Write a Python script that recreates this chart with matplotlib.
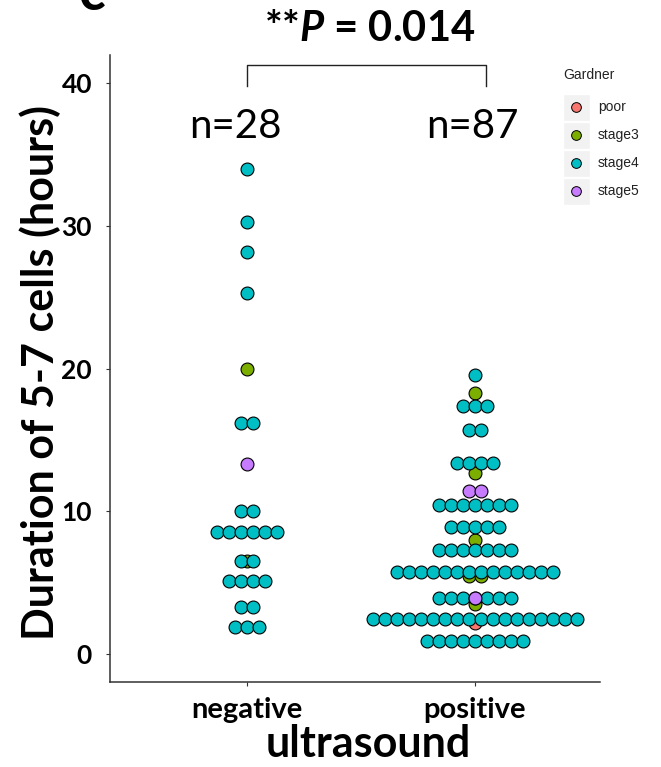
import numpy as np
import matplotlib.pyplot as plt
from matplotlib.patches import Rectangle
from matplotlib.lines import Line2D

plt.rcParams['font.family'] = ['Lato', 'DejaVu Sans']
plt.rcParams['mathtext.fontset'] = 'custom'
plt.rcParams['mathtext.bfit'] = 'Lato:italic:bold'

groups = ['negative', 'positive']
stages = ['poor', 'stage3', 'stage4', 'stage5']
stage_colors = ['#F8766D', '#7CAE00', '#00BFC4', '#C77CFF']

# binned dot rows: value (hours) and number of dots in the bin
neg_stage3_y = [20.0, 6.5]
neg_stage3_n = [1, 1]
neg_stage4_y = [34.0, 30.3, 28.2, 25.3, 16.2, 10.0, 8.5, 6.5, 5.1, 3.25, 1.85]
neg_stage4_n = [1, 1, 1, 1, 2, 2, 6, 2, 4, 2, 3]
neg_stage5_y = [13.3]
neg_stage5_n = [1]

pos_poor_y = [2.15]
pos_poor_n = [1]
pos_stage3_y = [18.27, 12.65, 8.0, 5.45, 3.45]
pos_stage3_n = [1, 1, 1, 2, 1]
pos_stage4_y = [19.56, 17.4, 15.65, 13.4, 10.39, 8.9, 7.23, 5.7, 3.88, 2.43, 0.9]
pos_stage4_n = [1, 3, 2, 4, 7, 5, 7, 14, 7, 18, 9]
pos_stage5_y = [11.37, 3.88]
pos_stage5_n = [2, 1]

n_labels = ['n=28', 'n=87']
p_text = r'**$\mathbfit{P}$ = 0.014'

data = {
    ('negative', 'stage3'): (neg_stage3_y, neg_stage3_n),
    ('negative', 'stage4'): (neg_stage4_y, neg_stage4_n),
    ('negative', 'stage5'): (neg_stage5_y, neg_stage5_n),
    ('positive', 'poor'): (pos_poor_y, pos_poor_n),
    ('positive', 'stage3'): (pos_stage3_y, pos_stage3_n),
    ('positive', 'stage4'): (pos_stage4_y, pos_stage4_n),
    ('positive', 'stage5'): (pos_stage5_y, pos_stage5_n),
}

dot_w = 0.0526

fig = plt.figure(figsize=(6.61, 7.67), dpi=100)
ax = fig.add_axes([0.1664, 0.1108, 0.7413, 0.8175])

for si, stage in enumerate(stages):
    for gi, grp in enumerate(groups):
        if (grp, stage) not in data:
            continue
        ys, ns = data[(grp, stage)]
        xs_all, ys_all = [], []
        for y, n in zip(ys, ns):
            offs = (np.arange(n) - (n - 1) / 2) * dot_w
            xs_all += list(gi + 1 + offs)
            ys_all += [y] * n
        ax.scatter(xs_all, ys_all, s=86, color=stage_colors[si],
                   edgecolor='black', linewidth=0.8, zorder=3 + si)

ax.set_xlim(0.4, 2.55)
ax.set_ylim(-2.0, 42)
ax.set_xticks([1, 2])
ax.set_xticklabels(groups, fontsize=21, fontweight='bold')
ax.set_yticks([0, 10, 20, 30, 40])
ax.set_yticklabels(['0', '10', '20', '30', '40'], fontsize=19, fontweight='bold')
ax.tick_params(length=3, color='#333333', width=0.8, pad=10)
ax.tick_params(axis='x', pad=8)
for side in ['top', 'right']:
    ax.spines[side].set_visible(False)
for side in ['left', 'bottom']:
    ax.spines[side].set_color('#333333')
    ax.spines[side].set_linewidth(1.1)

fig.text(368 / 661, 1 - 757 / 767, 'ultrasound', ha='center', va='baseline',
         fontsize=31, fontweight='bold')
fig.text(40 / 661, 1 - 372 / 767, 'Duration of 5-7 cells (hours)', rotation=90,
         ha='center', va='center', fontsize=31, fontweight='bold')

# significance bracket and annotations
ax.plot([1, 1, 2.05, 2.05], [39.85, 41.3, 41.3, 39.85], color='#222222', lw=1,
        clip_on=False)
fig.text(370 / 661, 1 - 29 / 767, p_text, ha='center', va='center',
         fontsize=30, fontweight='bold')
for gi, lab in enumerate(n_labels):
    ax.text([0.95, 1.99][gi], 37.0, lab, ha='center', va='center', fontsize=29)

# partially visible panel letter
fig.text(0.139, 0.987, 'c', ha='center', va='baseline', fontsize=40, fontweight='bold')

# legend
fig.text(563 / 661, 1 - 75 / 767, 'Gardner', family='Liberation Sans', fontsize=10,
         color='#222222', va='center', ha='left')
for si, stage in enumerate(stages):
    yc = 1 - (107 + si * 28) / 767
    fig.add_artist(Rectangle((563 / 661, yc - 13.5 / 767), 27 / 661, 27 / 767,
                             facecolor='#F2F2F2', edgecolor='white', lw=1,
                             transform=fig.transFigure))
    fig.add_artist(Line2D([576 / 661], [yc], marker='o', markersize=7,
                          color=stage_colors[si], markeredgecolor='black',
                          markeredgewidth=0.7, transform=fig.transFigure))
    fig.text(598 / 661, yc, stage, family='Liberation Sans', fontsize=10,
             color='#222222', va='center', ha='left')

fig.savefig('out.png', dpi=100)
